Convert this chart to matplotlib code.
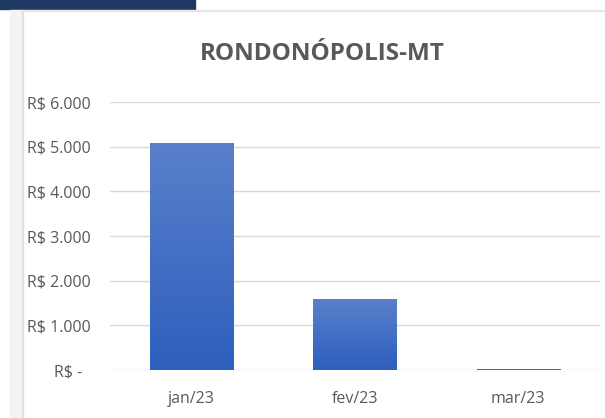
import matplotlib
matplotlib.use("Agg")
import matplotlib.pyplot as plt
import matplotlib.ticker as ticker
import numpy as np
from matplotlib.patches import Rectangle
from matplotlib.colors import LinearSegmentedColormap

# Data
months = ["jan/23", "fev/23", "mar/23"]
values = [5080, 1600, 25]
y_ticks = [0, 1000, 2000, 3000, 4000, 5000, 6000]
title = "RONDONÓPOLIS-MT"

plt.rcParams['font.family'] = ['Open Sans', 'DejaVu Sans']

fig = plt.figure(figsize=(6.05, 4.18), dpi=100)
ax = fig.add_axes([110 / 605, (418 - 370) / 418, 490 / 605, (370 - 102) / 418])

# screenshot frame bits
fig.patches.append(Rectangle((0, 1 - 9 / 418), 195 / 605, 9 / 418, transform=fig.transFigure,
                             color='#1f3864', zorder=0))
fig.patches.append(Rectangle((10 / 605, 0), 12 / 605, 1 - 10 / 418, transform=fig.transFigure,
                             color='#f3f3f3', zorder=0))
fig.patches.append(Rectangle((22 / 605, 0), 1 / 605, 1 - 10 / 418, transform=fig.transFigure,
                             color='#e0e0e0', zorder=0))
fig.patches.append(Rectangle((22 / 605, 1 - 11 / 418), 583 / 605, 1 / 418, transform=fig.transFigure,
                             color='#e6e6e6', zorder=0))

x = np.arange(len(months))
bars = ax.bar(x, values, width=0.51, color='#4472c4', zorder=2)

# vertical gradient in each bar
cmap = LinearSegmentedColormap.from_list('grad', ['#2d5fbd', '#5a80cb'])
grad = np.linspace(0, 1, 256).reshape(-1, 1)
for b in bars:
    bx, by = b.get_x(), b.get_y()
    w, h = b.get_width(), b.get_height()
    im = ax.imshow(grad, cmap=cmap, origin='lower', aspect='auto',
                   extent=[bx, bx + w, by, by + h], zorder=3)
    im.set_clip_path(b)

ax.set_xlim(-0.5, len(months) - 0.5)
ax.set_ylim(0, 6000)
ax.set_yticks(y_ticks)


def fmt(v, pos):
    if v == 0:
        return "R$ -  "
    return "R$ " + f"{int(v):,}".replace(",", ".")


ax.yaxis.set_major_formatter(ticker.FuncFormatter(fmt))
ax.set_xticks(x)
ax.set_xticklabels(months)
ax.tick_params(axis='both', length=0, labelsize=11.5, colors='#595959')
ax.tick_params(axis='y', pad=14)
ax.tick_params(axis='x', pad=15)
ax.grid(axis='y', color='#d9d9d9', linewidth=1, zorder=0)
ax.set_axisbelow(True)
for s in ax.spines.values():
    s.set_visible(False)

fig.text(322 / 605, 1 - 54 / 418, title, ha='center', va='center',
         fontsize=17.5, fontweight='bold', color='#595959')

fig.savefig("out.png", dpi=100)
